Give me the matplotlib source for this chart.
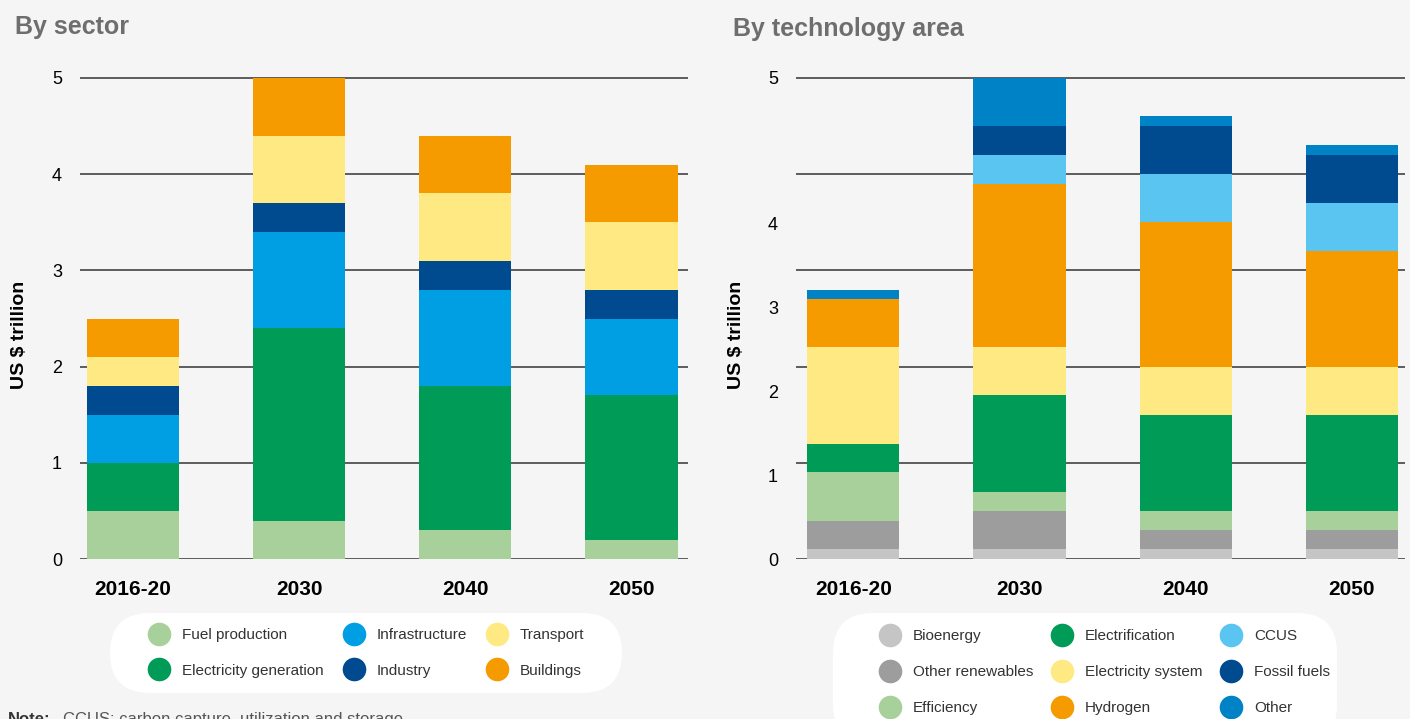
import matplotlib
matplotlib.use('Agg')
from matplotlib import pyplot as plt
from matplotlib.patches import FancyBboxPatch
from matplotlib.lines import Line2D
from matplotlib.transforms import IdentityTransform

plt.rcParams['font.family'] = ['Liberation Sans', 'DejaVu Sans']

years = ['2016-20', '2030', '2040', '2050']

# By sector (US$ trillion, per layer)
sector_names = ['Fuel production', 'Electricity generation', 'Infrastructure',
                'Industry', 'Transport', 'Buildings']
fuel_production = [0.5, 0.4, 0.3, 0.2]
electricity_generation = [0.5, 2.0, 1.5, 1.5]
infrastructure = [0.5, 1.0, 1.0, 0.8]
industry = [0.3, 0.3, 0.3, 0.3]
transport = [0.3, 0.7, 0.7, 0.7]
buildings = [0.4, 0.6, 0.6, 0.6]
sector_colors = ['#a8d09a', '#009b56', '#009fe3', '#004b8f', '#ffe982', '#f59b00']

# By technology area (US$ trillion, per layer)
tech_names = ['Bioenergy', 'Other renewables', 'Efficiency', 'Electrification',
              'Electricity system', 'Hydrogen', 'CCUS', 'Fossil fuels', 'Other']
bioenergy = [0.1, 0.1, 0.1, 0.1]
other_renewables = [0.3, 0.4, 0.2, 0.2]
efficiency = [0.5, 0.2, 0.2, 0.2]
electrification = [0.3, 1.0, 1.0, 1.0]
electricity_system = [1.0, 0.5, 0.5, 0.5]
hydrogen = [0.5, 1.7, 1.5, 1.2]
ccus = [0.0, 0.3, 0.5, 0.5]
fossil_fuels = [0.0, 0.3, 0.5, 0.5]
other = [0.1, 0.5, 0.1, 0.1]
tech_colors = ['#c5c5c5', '#9d9d9d', '#a8d09a', '#009b56', '#ffe982',
               '#f59b00', '#5bc5f2', '#004b8f', '#0083c6']

grid_ticks = [0, 1, 2, 3, 4, 5]
tech_label_pos = [0, 0.865, 1.74, 2.61, 3.49, 5.0]
tech_label_txt = ['0', '1', '2', '3', '4', '5']

bg = '#f5f5f5'
fig = plt.figure(figsize=(14.1, 7.19), dpi=100, facecolor=bg)

ymax = 5.03
ax1 = fig.add_axes([80/1410, 1-559/719, 608/1410, 96.2*ymax/719])
ax2 = fig.add_axes([796/1410, 1-559/719, 609/1410, 96.2*ymax/719])

x = list(range(len(years)))
width = 0.555


def stack(ax, series, colors):
    bottom = [0.0]*len(years)
    for vals, c in zip(series, colors):
        ax.bar(x, vals, width, bottom=bottom, color=c, zorder=3, linewidth=0)
        bottom = [b+v for b, v in zip(bottom, vals)]


stack(ax1, [fuel_production, electricity_generation, infrastructure,
            industry, transport, buildings], sector_colors)
stack(ax2, [bioenergy, other_renewables, efficiency, electrification,
            electricity_system, hydrogen, ccus, fossil_fuels, other], tech_colors)

for ax in (ax1, ax2):
    ax.set_facecolor(bg)
    ax.set_ylim(0, ymax)
    for g in grid_ticks:
        ax.axhline(g, color='#333333', linewidth=1.1, zorder=1)
    for s in ax.spines.values():
        s.set_visible(False)
    ax.set_xticks(x)
    ax.set_xticklabels(years, fontsize=15, fontweight='bold')
    ax.tick_params(axis='x', length=0, pad=15)
    ax.tick_params(axis='y', length=0, pad=13, labelsize=13)
    ax.set_ylabel('US $ trillion', fontsize=14, fontweight='bold')

ax1.set_yticks(grid_ticks)
ax2.set_yticks(tech_label_pos, tech_label_txt)

ax1.set_xlim(-0.32, 3.34)
ax2.set_xlim(-0.345, 3.32)
ax1.yaxis.set_label_coords(-0.0855, 0.463)
ax2.yaxis.set_label_coords(-0.084, 0.463)

fig.text(15/1410, 1-27/719, 'By sector', fontsize=18, fontweight='bold',
         color='#6e6e6e', va='center')
fig.text(733/1410, 1-29/719, 'By technology area', fontsize=18,
         fontweight='bold', color='#6e6e6e', va='center')

# legend backgrounds
for (x0, y0, x1, y1) in [(110, 613, 622, 693), (833, 613, 1337, 745)]:
    fig.add_artist(FancyBboxPatch((x0+40, 719-y1+40), x1-x0-80, y1-y0-80,
                                  boxstyle='round,pad=40', fc='white', ec='none',
                                  transform=IdentityTransform(), zorder=0))


def handles(names, colors):
    return [Line2D([], [], marker='o', linestyle='none', markersize=17,
                   markerfacecolor=c, markeredgecolor='none', label=n)
            for n, c in zip(names, colors)]


leg1 = fig.legend(handles=handles(sector_names, sector_colors), ncol=3,
                  loc='center', bbox_to_anchor=(366/1410, 1-653/719),
                  frameon=False, fontsize=11, handlelength=1.55,
                  handletextpad=0.72, columnspacing=1.2, labelspacing=1.38)
leg2 = fig.legend(handles=handles(tech_names, tech_colors), ncol=3,
                  loc='center', bbox_to_anchor=(1104/1410, 1-672/719),
                  frameon=False, fontsize=11, handlelength=1.55,
                  handletextpad=0.72, columnspacing=1.1, labelspacing=1.45)
for leg in (leg1, leg2):
    for t in leg.get_texts():
        t.set_color('#333333')

fig.text(8/1410, -5/719, 'Note:', fontsize=12, fontweight='bold',
         color='#333333', va='baseline')
fig.text(63/1410, -5/719, 'CCUS: carbon capture, utilization and storage',
         fontsize=12, color='#555555', va='baseline')

fig.savefig('out.png', dpi=100, facecolor=bg)
